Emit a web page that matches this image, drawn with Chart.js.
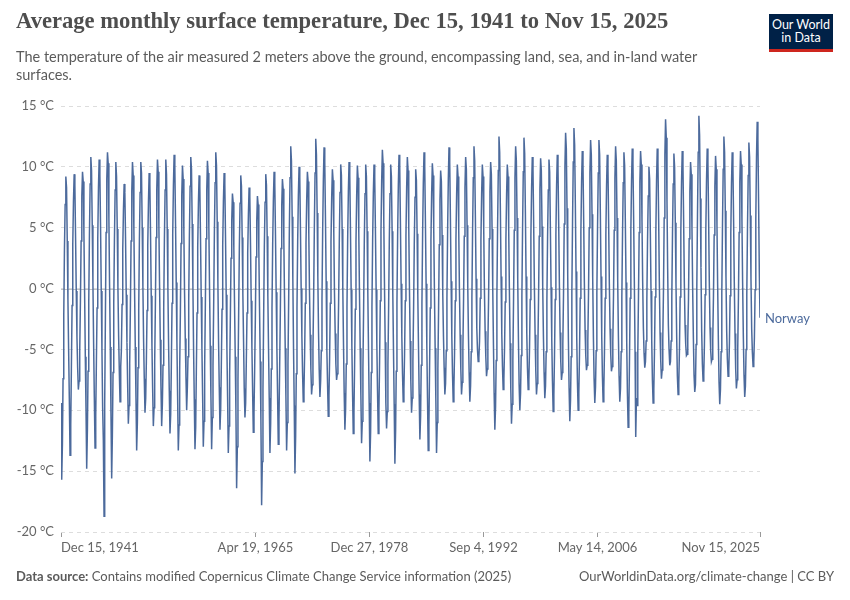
<!DOCTYPE html>
<html>
<head>
<meta charset="utf-8">
<script src="https://cdn.jsdelivr.net/npm/chart.js@4.4.0/dist/chart.umd.min.js"></script>
<style>
  body { margin: 0; background: #fff; width: 850px; height: 600px; overflow: hidden; position: relative; font-family: Lato, "Noto Sans", sans-serif; }
  #title { position: absolute; left: 16px; top: 8px; font-family: "Liberation Serif", serif; font-weight: bold; font-size: 22.6px; color: #4e4e4e; white-space: nowrap; }
  #subtitle { position: absolute; left: 16px; top: 48px; font-size: 14.5px; line-height: 18px; color: #5b5b5b; white-space: nowrap; }
  #logo { position: absolute; left: 769px; top: 14px; width: 64px; background: #002147; border-bottom: 3px solid #ce261e; color: #fff; font-size: 12.5px; line-height: 13px; text-align: center; padding-top: 4px; box-sizing: content-box; height: 31px; }
  #source { position: absolute; left: 16px; top: 568px; font-size: 13px; color: #5b5b5b; }
  #source b { font-weight: bold; }
  #credit { position: absolute; right: 16px; top: 568px; font-size: 13px; color: #5b5b5b; }
  #wrap { position: absolute; left: 0; top: 0; width: 850px; height: 600px; }
</style>
</head>
<body>
<div id="wrap"><canvas id="chart"></canvas></div>
<div id="title">Average monthly surface temperature, Dec 15, 1941 to Nov 15, 2025</div>
<div id="subtitle">The temperature of the air measured 2 meters above the ground, encompassing land, sea, and in-land water<br>surfaces.</div>
<div id="logo">Our World<br>in Data</div>
<div id="source"><b>Data source:</b> Contains modified Copernicus Climate Change Service information (2025)</div>
<div id="credit">OurWorldinData.org/climate-change | CC BY</div>
<script>
// monthly values, starting Dec 1941 (one row per year, Jan..Dec)
const startYear = 1941;
const startMonth = 11; // December (0-based)

const norway1940s = [
  -9.4,
  -15.7, -12.8, -7.4, -2.2, 3.2, 6.9, 9.2, 8.3, 3.9, -0.9, -5.1, -9.0,
  -13.7, -11.2, -6.6, -1.4, 3.6, 7.2, 9.4, 8.5, 4.2, -0.2, -4.0, -6.5,
  -8.3, -7.6, -5.2, -1.0, 3.9, 7.6, 9.6, 8.8, 4.5, -0.3, -5.6, -9.8,
  -14.8, -11.6, -6.8, -1.1, 4.4, 8.6, 10.8, 9.7, 5.2, 0.4, -4.6, -8.9,
  -13.1, -10.4, -6.2, -1.6, 4.1, 8.3, 10.6, 9.4, 5.0, -0.2, -5.1, -9.8,
  -12.5, -18.7, -9.5, -2.4, 4.6, 9.0, 11.2, 10.3, 5.8, 0.3, -4.8, -10.2,
  -15.6, -12.0, -6.9, -1.2, 4.0, 8.1, 10.4, 9.2, 4.9, 0.1, -3.9, -6.8,
  -9.3, -6.4, -5.1, -1.3, 3.2, 6.5, 8.6, 7.9, 4.0, -0.5, -4.4, -7.8
];
const norway1950s = [
  -11.1, -9.6, -6.2, -1.5, 3.9, 8.0, 10.4, 9.3, 4.8, -0.1, -4.8, -8.9,
  -13.3, -11.0, -6.5, -1.7, 4.0, 7.9, 10.4, 9.5, 5.0, 0.2, -4.3, -7.4,
  -10.2, -9.0, -6.0, -1.8, 3.5, 7.1, 9.5, 8.6, 4.3, -0.6, -4.7, -8.2,
  -11.3, -9.8, -6.1, -1.3, 4.2, 8.2, 10.6, 9.6, 5.2, 0.3, -4.2, -8.0,
  -11.3, -9.5, -6.3, -1.6, 4.0, 8.1, 10.6, 9.4, 4.9, 0.0, -4.6, -8.4,
  -11.9, -10.3, -6.4, -1.2, 4.4, 8.5, 11.0, 10.0, 5.4, 0.5, -4.4, -8.8,
  -13.3, -11.2, -6.7, -1.9, 3.7, 7.7, 10.1, 9.0, 4.6, -0.3, -4.1, -7.2,
  -10.0, -8.1, -5.6, -1.0, 4.3, 8.4, 10.8, 9.8, 5.3, 0.4, -5.0, -9.1,
  -13.2, -11.4, -6.9, -2.0, 3.4, 7.0, 9.3, 8.4, 4.1, -0.7, -4.9, -8.7,
  -13.0, -10.9, -6.5, -1.3, 4.1, 8.1, 10.5, 9.5, 5.1, 0.2, -4.7, -8.8
];
const norway1960s = [
  -13.2, -10.6, -6.3, -1.1, 4.6, 8.7, 11.2, 10.1, 5.5, 0.6, -4.5, -8.1,
  -11.6, -9.9, -6.4, -1.7, 3.5, 7.2, 9.5, 8.6, 4.2, -0.5, -4.9, -8.9,
  -13.5, -11.3, -7.1, -2.4, 2.5, 5.6, 7.8, 7.1, 3.3, -1.2, -5.6, -10.0,
  -16.4, -13.0, -7.5, -1.9, 3.4, 7.0, 9.3, 8.4, 4.2, -0.4, -4.3, -8.2,
  -10.6, -9.4, -6.0, -2.0, 2.9, 6.1, 8.3, 7.6, 3.6, -1.0, -4.8, -8.3,
  -11.8, -10.2, -6.7, -2.5, 2.6, 5.5, 7.6, 6.9, 3.1, -1.5, -6.0, -10.8,
  -17.8, -14.2, -8.3, -2.1, 3.5, 7.1, 9.4, 8.5, 4.3, -0.6, -5.0, -9.0,
  -13.5, -11.1, -6.6, -1.6, 3.6, 7.3, 9.6, 8.7, 4.4, -0.3, -4.8, -8.6,
  -12.8, -10.8, -6.6, -1.9, 3.3, 6.8, 9.0, 8.2, 4.0, -0.7, -4.9, -8.8,
  -13.3, -11.0, -6.3, -1.0, 4.8, 9.1, 11.7, 10.5, 5.9, 0.8, -5.0, -9.6
];
const norway1970s = [
  -15.2, -12.1, -7.0, -1.6, 3.8, 7.7, 10.0, 9.1, 4.7, 0.0, -3.9, -6.9,
  -9.3, -8.4, -5.5, -1.2, 3.7, 7.3, 9.6, 8.8, 4.5, -0.2, -3.8, -6.6,
  -8.7, -7.9, -5.0, -0.6, 5.0, 9.5, 12.3, 11.0, 6.2, 1.0, -3.6, -6.7,
  -8.9, -7.6, -5.1, -0.9, 4.7, 9.0, 11.6, 10.4, 5.7, 0.6, -5.0, -7.8,
  -10.5, -8.8, -5.8, -1.2, 3.8, 7.5, 9.8, 8.9, 4.6, -0.3, -3.7, -6.2,
  -7.5, -7.0, -5.0, -1.0, 4.0, 7.9, 10.2, 9.3, 4.9, 0.0, -4.6, -8.6,
  -11.6, -9.9, -6.2, -1.5, 4.0, 8.0, 10.4, 9.3, 4.8, -0.1, -4.7, -8.5,
  -11.9, -10.2, -6.3, -1.7, 3.8, 7.7, 10.1, 9.1, 4.6, -0.3, -4.9, -8.7,
  -12.7, -10.9, -6.6, -1.6, 3.9, 7.8, 10.2, 9.2, 4.7, -0.2, -5.0, -9.4,
  -14.2, -11.8, -6.9, -1.5, 3.9, 7.8, 10.2, 9.1, 4.7, -0.1, -4.5, -8.4
];
const norway1980s = [
  -11.9, -10.0, -6.0, -1.0, 4.6, 8.9, 11.4, 10.3, 5.6, 0.5, -4.4, -9.4,
  -11.5, -10.1, -6.3, -1.6, 3.9, 7.8, 10.2, 9.2, 4.7, -0.3, -5.1, -9.5,
  -14.4, -11.7, -6.8, -1.2, 4.3, 8.5, 11.0, 10.0, 5.3, 0.4, -3.9, -7.0,
  -9.3, -8.2, -5.4, -1.0, 4.3, 8.3, 10.8, 9.7, 5.1, 0.2, -4.3, -7.6,
  -10.2, -9.0, -6.0, -1.5, 3.8, 7.5, 9.8, 8.9, 4.5, -0.4, -4.8, -8.7,
  -12.4, -10.5, -6.3, -1.2, 4.5, 8.7, 11.2, 10.1, 5.4, 0.4, -4.7, -9.0,
  -13.3, -11.2, -6.7, -1.6, 3.9, 7.8, 10.3, 9.3, 4.8, -0.2, -4.9, -9.0,
  -13.5, -11.0, -6.6, -1.7, 3.6, 7.3, 9.7, 8.8, 4.4, -0.4, -3.9, -6.5,
  -8.7, -7.8, -5.1, -0.8, 4.7, 9.0, 11.6, 10.4, 5.7, 0.6, -3.9, -7.0,
  -9.3, -8.1, -5.3, -1.0, 4.0, 7.8, 10.2, 9.2, 4.8, 0.0, -3.8, -6.6
];
const norway1990s = [
  -8.7, -7.7, -5.0, -0.8, 4.3, 8.3, 10.8, 9.8, 5.2, 0.3, -3.9, -6.9,
  -9.3, -8.0, -5.2, -0.7, 4.8, 9.1, 11.7, 10.5, 5.8, 0.8, -3.2, -5.0,
  -6.0, -5.7, -4.3, -0.8, 4.0, 7.8, 10.2, 9.2, 4.8, -0.1, -3.5, -5.6,
  -7.2, -6.6, -4.6, -0.9, 4.1, 8.0, 10.4, 9.4, 4.9, 0.0, -4.6, -8.6,
  -11.6, -9.7, -5.9, -0.6, 5.0, 9.7, 12.5, 11.2, 6.4, 1.0, -3.7, -6.4,
  -8.3, -7.4, -5.0, -1.1, 4.0, 7.8, 10.2, 9.2, 4.8, -0.1, -4.5, -8.2,
  -11.1, -9.5, -5.9, -0.8, 4.8, 9.1, 11.7, 10.5, 5.8, 0.7, -4.2, -7.9,
  -10.0, -8.6, -5.5, -0.6, 5.0, 9.6, 12.4, 11.1, 6.3, 1.0, -3.6, -6.5,
  -8.3, -7.5, -5.0, -0.9, 4.3, 8.3, 10.8, 9.7, 5.1, 0.2, -3.8, -6.7,
  -8.7, -7.8, -5.1, -0.9, 4.3, 8.2, 10.7, 9.7, 5.1, 0.2, -3.9, -6.9
];
const norway2000s = [
  -9.0, -8.0, -5.2, -1.0, 4.2, 8.1, 10.6, 9.6, 5.0, 0.1, -4.2, -7.6,
  -10.1, -8.7, -5.5, -0.9, 4.4, 8.5, 11.0, 9.9, 5.3, 0.4, -3.6, -6.0,
  -7.5, -6.9, -4.6, -0.4, 5.3, 10.0, 12.8, 11.5, 6.6, 1.2, -4.3, -8.2,
  -10.9, -9.2, -5.6, -0.3, 5.5, 10.4, 13.2, 11.8, 6.9, 1.4, -4.0, -7.6,
  -10.0, -8.6, -5.4, -0.8, 4.6, 8.8, 11.3, 10.2, 5.5, 0.5, -3.4, -5.5,
  -6.7, -6.3, -4.3, -0.3, 5.0, 9.5, 12.2, 11.0, 6.1, 0.9, -4.0, -7.4,
  -9.4, -8.1, -5.1, -0.4, 5.0, 9.5, 12.2, 11.0, 6.2, 1.0, -3.9, -7.2,
  -9.3, -8.2, -5.2, -0.8, 4.4, 8.5, 11.0, 9.9, 5.3, 0.4, -3.3, -5.4,
  -6.8, -6.4, -4.4, -0.5, 4.8, 9.1, 11.7, 10.5, 5.8, 0.7, -3.9, -7.2,
  -9.3, -8.2, -5.2, -0.7, 4.5, 8.7, 11.2, 10.1, 5.5, 0.5, -4.4, -8.6
];
const norway2010s = [
  -11.4, -10.2, -6.1, -0.8, 4.7, 8.9, 11.5, 10.3, 5.6, 0.6, -5.2, -12.2,
  -9.0, -9.6, -5.4, -0.6, 4.6, 8.8, 11.3, 10.2, 5.6, 0.6, -3.2, -5.3,
  -6.5, -6.0, -4.3, -1.0, 3.9, 7.6, 10.0, 9.0, 4.6, -0.2, -4.2, -7.5,
  -9.4, -8.3, -5.3, -0.7, 4.6, 8.9, 11.5, 10.4, 5.7, 0.6, -3.6, -5.9,
  -7.4, -6.7, -4.2, -0.1, 5.8, 11.0, 13.9, 12.4, 7.2, 1.6, -3.0, -5.0,
  -6.3, -6.0, -4.3, -0.7, 4.5, 8.6, 11.1, 10.0, 5.4, 0.4, -4.0, -7.2,
  -8.7, -7.8, -5.0, -0.7, 4.6, 8.8, 11.3, 10.2, 5.5, 0.5, -3.0, -4.6,
  -5.5, -5.4, -4.1, -0.9, 4.1, 8.0, 10.4, 9.4, 4.9, 0.0, -4.0, -7.1,
  -8.5, -7.9, -4.6, 0.0, 6.0, 11.2, 14.2, 12.6, 7.4, 1.7, -3.5, -6.2,
  -7.6, -7.0, -4.6, -0.5, 4.7, 8.9, 11.5, 10.4, 5.7, 0.6, -3.2, -5.1
];
const norway2020s = [
  -6.0, -5.8, -4.2, -0.6, 4.4, 8.4, 10.9, 9.8, 5.2, 0.3, -4.2, -7.7,
  -9.5, -8.3, -5.2, -0.4, 5.2, 9.8, 12.5, 11.2, 6.4, 1.0, -3.5, -5.8,
  -7.2, -6.7, -4.5, -0.6, 4.5, 8.7, 11.2, 10.1, 5.5, 0.5, -3.7, -6.6,
  -8.2, -7.5, -4.9, -0.7, 4.6, 8.8, 11.3, 10.2, 5.6, 0.5, -3.9, -7.1,
  -8.9, -8.0, -5.0, -0.5, 4.9, 9.3, 12.0, 10.8, 6.0, 0.8, -3.3, -5.2,
  -6.4, -6.0, -4.0, -0.1, 5.6, 10.8, 13.7, 12.2, 7.0, 1.5, -2.4
];

const yTicks = [-20, -15, -10, -5, 0, 5, 10, 15];
const tickDates = [[1941, 11, 15], [1965, 3, 19], [1978, 11, 27], [1992, 8, 4], [2006, 4, 14], [2025, 10, 15]];
const tickLabels = ['Dec 15, 1941', 'Apr 19, 1965', 'Dec 27, 1978', 'Sep 4, 1992', 'May 14, 2006', 'Nov 15, 2025'];
const seriesName = 'Norway';

const DAY = 86400000;
const temps = [].concat(norway1940s, norway1950s, norway1960s, norway1970s, norway1980s,
                        norway1990s, norway2000s, norway2010s, norway2020s);
const points = temps.map((v, i) => ({ x: Date.UTC(startYear, startMonth + i, 15) / DAY, y: v }));
const tickDays = tickDates.map(d => Date.UTC(d[0], d[1], d[2]) / DAY);

const lineColor = '#4c6a9c';
const labelFont = '13px Lato, "Noto Sans", sans-serif';

const owidExtras = {
  id: 'owidExtras',
  beforeDatasetsDraw(chart) {
    // solid zero line
    const { ctx, chartArea } = chart;
    const y0 = chart.scales.y.getPixelForValue(0);
    ctx.save();
    ctx.strokeStyle = '#c4c4c4';
    ctx.lineWidth = 1;
    ctx.beginPath();
    ctx.moveTo(chartArea.left, Math.round(y0) + 0.5);
    ctx.lineTo(chartArea.right, Math.round(y0) + 0.5);
    ctx.stroke();
    ctx.restore();
  },
  afterDatasetsDraw(chart) {
    const { ctx, chartArea } = chart;
    const xs = chart.scales.x, ys = chart.scales.y;
    ctx.save();
    ctx.font = labelFont;
    ctx.fillStyle = '#666';
    ctx.textBaseline = 'middle';
    tickDays.forEach((d, i) => {
      const px = xs.getPixelForValue(d);
      ctx.textAlign = i === 0 ? 'left' : (i === tickDays.length - 1 ? 'right' : 'center');
      ctx.fillText(tickLabels[i], px, chartArea.bottom + 16);
    });
    // series label at the end of the line
    const last = temps[temps.length - 1];
    ctx.fillStyle = lineColor;
    ctx.textAlign = 'left';
    ctx.fillText(seriesName, chartArea.right + 5, ys.getPixelForValue(last) + 1);
    ctx.restore();
  }
};

new Chart(document.getElementById('chart'), {
  type: 'line',
  data: {
    datasets: [{
      label: seriesName,
      data: points,
      borderColor: lineColor,
      borderWidth: 1.5,
      pointRadius: 0,
      tension: 0,
      fill: false
    }]
  },
  options: {
    responsive: true,
    maintainAspectRatio: false,
    animation: false,
    layout: { padding: { left: 0, right: 90, top: 106, bottom: 48 } },
    plugins: { legend: { display: false }, tooltip: { enabled: false } },
    scales: {
      x: {
        type: 'linear',
        min: points[0].x,
        max: points[points.length - 1].x,
        afterBuildTicks: s => { s.ticks = tickDays.map(v => ({ value: v })); },
        afterFit: s => { s.height = 20; },
        ticks: { display: false },
        grid: { drawOnChartArea: false, drawTicks: true, tickLength: 5, color: '#999' },
        border: { display: false }
      },
      y: {
        min: -20,
        max: 15,
        afterBuildTicks: s => { s.ticks = yTicks.map(v => ({ value: v })); },
        afterFit: s => { s.width = 61; },
        ticks: {
          color: '#666',
          font: { family: 'Lato', size: 13 },
          padding: 7,
          callback: v => v + ' °C'
        },
        grid: { color: '#dddddd', drawTicks: false },
        border: { display: false, dash: [4, 4] }
      }
    }
  },
  plugins: [owidExtras]
});
</script>
</body>
</html>
